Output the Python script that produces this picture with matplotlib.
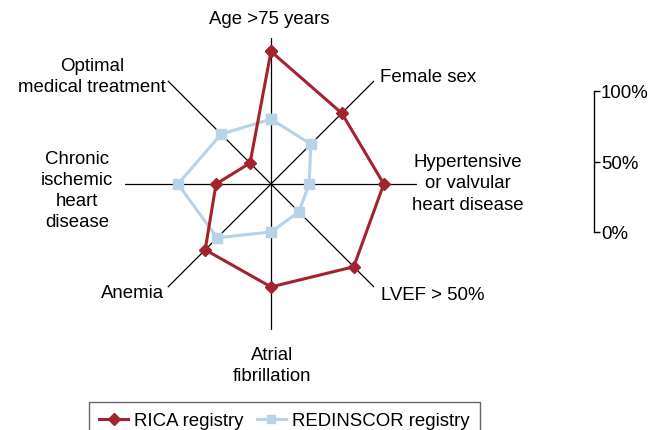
import numpy as np
import matplotlib.pyplot as plt
from matplotlib.lines import Line2D

plt.rcParams["font.family"] = ["Liberation Sans", "DejaVu Sans"]

# axes, clockwise from the top
categories = [
    "Age >75 years",
    "Female sex",
    "Hypertensive\nor valvular\nheart disease",
    "LVEF > 50%",
    "Atrial\nfibrillation",
    "Anemia",
    "Chronic\nischemic\nheart\ndisease",
    "Optimal\nmedical treatment",
]

# share of patients (%)
rica = [94, 71, 80, 83, 73, 66, 39, 21]
redinscor = [46, 40, 27, 28, 34, 54, 66, 50]

scale_ticks = [0, 50, 100]
scale_labels = ["0%", "50%", "100%"]

RED = "#a3232f"
BLUE = "#b8d3e8"
FS = 13.4

W, H = 660, 431
fig = plt.figure(figsize=(W / 100, H / 100), dpi=100)

# radar centre and radius in pixels
cx, cy, r100 = 271, 185, 141
rmax = 1.035
rpx = r100 * rmax
ax = fig.add_axes([(cx - rpx) / W, (H - cy - rpx) / H, 2 * rpx / W, 2 * rpx / H],
                  projection="polar")
ax.set_theta_offset(np.pi / 2)
ax.set_theta_direction(-1)
ax.set_ylim(0, rmax)
ax.grid(False)
ax.spines["polar"].set_visible(False)
ax.set_xticks([])
ax.set_yticks([])
ax.patch.set_alpha(0)

n = len(categories)
angles = np.arange(n) * 2 * np.pi / n

for a in angles:
    ax.plot([a, a], [0, rmax], color="black", lw=0.9, zorder=1)

def closed(vals):
    v = np.array(vals) / 100.0
    return np.append(angles, angles[0]), np.append(v, v[0])

t, v = closed(redinscor)
ax.plot(t, v, color=BLUE, lw=2.2, marker="s", ms=7, zorder=2, clip_on=False)
t, v = closed(rica)
ax.plot(t, v, color=RED, lw=2.2, marker="D", ms=6, zorder=3, clip_on=False)

# category labels (pixel positions of the reference)
label_pos = [
    (269, 20, "center"),
    (380, 77, "left"),
    (468, 184, "center"),
    (381, 295, "left"),
    (272, 366, "center"),
    (164, 294, "right"),
    (77, 191, "center"),
    (92, 77, "center"),
]
for text, (x, y, ha) in zip(categories, label_pos):
    fig.text(x / W, 1 - y / H, text, ha=ha, va="center", fontsize=FS,
             multialignment="center", linespacing=1.32)

# separate 0-100% scale on the right
sx, stop, sbot = 594, 92, 233
sax = fig.add_axes([sx / W - 0.02, (H - sbot) / H, 0.02, (sbot - stop) / H])
sax.set_ylim(0, 100)
sax.patch.set_alpha(0)
for s in ["left", "top", "bottom"]:
    sax.spines[s].set_visible(False)
sax.spines["right"].set_linewidth(1.0)
sax.set_xticks([])
sax.yaxis.tick_right()
sax.set_yticks(scale_ticks)
sax.set_yticklabels(scale_labels, fontsize=FS)
sax.tick_params(axis="y", direction="out", length=4, width=1.0, pad=1)

handles = [
    Line2D([], [], color=RED, lw=2.2, marker="D", ms=6),
    Line2D([], [], color=BLUE, lw=2.2, marker="s", ms=6),
]
leg = fig.legend(handles, ["RICA registry", "REDINSCOR registry"],
                 loc="upper left", bbox_to_anchor=(89 / W, 1 - 403 / H),
                 ncol=2, fontsize=FS, frameon=True, fancybox=False,
                 borderaxespad=0, handlelength=1.56, handletextpad=0.32,
                 columnspacing=0.7, borderpad=0.55)
leg.get_frame().set_edgecolor("#404040")
leg.get_frame().set_linewidth(1.0)

fig.savefig("out.png", dpi=100)
